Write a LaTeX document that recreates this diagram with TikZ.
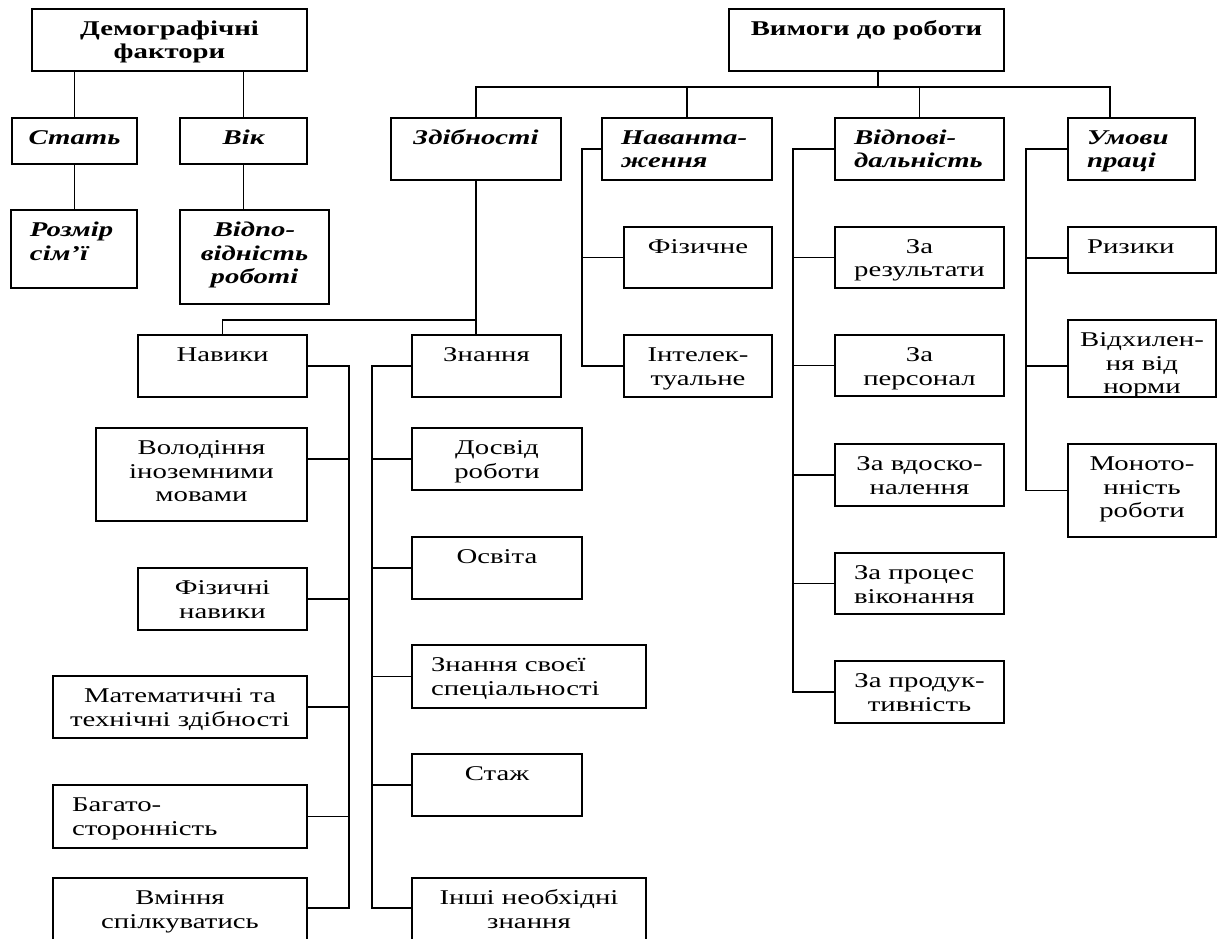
\documentclass[tikz,border=0pt]{standalone}
\usepackage{fontspec}
\setmainfont{Liberation Serif}[FakeStretch=1.37]
\tikzset{
  boxst/.style={draw=black, line width=1.6pt, inner sep=0pt, outer sep=0pt, font=\fontsize{21pt}{23.5pt}\selectfont},
  conn/.style={draw=black, line width=1.6pt},
}
\newcommand{\mybox}[8]{\node[boxst] (#1) at ({(#2+#4)/2},{(#3+#5)/2}) {\parbox[c][\dimexpr#5pt-#3pt\relax][t]{\dimexpr#4pt-#2pt\relax}{#6#7\rule{0pt}{26.5pt}#8}};}
\newcommand{\ctr}{\centering}
\newcommand{\lft}{\raggedright\leftskip=19pt\relax}
\newcommand{\bfs}{\bfseries}
\newcommand{\bis}{\bfseries\itshape}
\newcommand{\rgs}{\mdseries\upshape}
\begin{document}
\begin{tikzpicture}[x=1pt,y=-1pt]
\useasboundingbox (0,0) rectangle (1219,939);
\clip (0,0) rectangle (1219,939);
\fill[white] (0,0) rectangle (1219,939);

% left top group
\mybox{dem}{32}{9}{307}{71}{\bfs}{\ctr}{Демографічні\\фактори}
\mybox{stat}{12}{118}{137}{164}{\bis}{\ctr}{Стать}
\mybox{vik}{180}{118}{307}{164}{\bis}{\ctr}{Вік}
\mybox{rozm}{11}{210}{137}{288}{\bis}{\lft}{Розмір\\сім’ї}
\mybox{vidp}{180}{210}{329}{304}{\bis}{\ctr}{Відпо-\\відність\\роботі}

% right top group
\mybox{vym}{729}{9}{1004}{71}{\bfs}{\ctr}{Вимоги до роботи}
\mybox{zdib}{391}{118}{561}{180}{\bis}{\ctr}{Здібності}
\mybox{navan}{602}{118}{772}{180}{\bis}{\lft}{Наванта-\\ження}
\mybox{vidpov}{835}{118}{1004}{180}{\bis}{\lft}{Відпові-\\дальність}
\mybox{umovy}{1068}{118}{1195}{180}{\bis}{\lft}{Умови\\праці}

% Navantazhennia children
\mybox{fiz}{624}{227}{772}{288}{\rgs}{\ctr}{Фізичне}
\mybox{intel}{624}{335}{772}{397}{\rgs}{\ctr}{Інтелек-\\туальне}

% Vidpovidalnist children
\mybox{zares}{835}{227}{1004}{288}{\rgs}{\ctr}{За\\результати}
\mybox{zapers}{835}{335}{1004}{396}{\rgs}{\ctr}{За\\персонал}
\mybox{zavdos}{835}{444}{1004}{506}{\rgs}{\ctr}{За вдоско-\\налення}
\mybox{zaproc}{835}{553}{1004}{614}{\rgs}{\lft}{За процес\\віконання}
\mybox{zaprod}{835}{661}{1004}{723}{\rgs}{\ctr}{За продук-\\тивність}

% Umovy pratsi children
\mybox{ryz}{1068}{227}{1216}{273}{\rgs}{\lft}{Ризики}
\mybox{vidkh}{1068}{320}{1216}{397}{\rgs}{\ctr}{Відхилен-\\ня від\\норми}
\mybox{monot}{1068}{444}{1216}{537}{\rgs}{\ctr}{Моното-\\нність\\роботи}

% Zdibnosti children
\mybox{navyky}{138}{335}{307}{397}{\rgs}{\ctr}{Навики}
\mybox{znann}{412}{335}{561}{397}{\rgs}{\ctr}{Знання}

% Navyky children
\mybox{volod}{96}{428}{307}{521}{\rgs}{\ctr}{Володіння\\іноземними\\мовами}
\mybox{fizn}{138}{568}{307}{630}{\rgs}{\ctr}{Фізичні\\навики}
\mybox{mat}{53}{676}{307}{738}{\rgs}{\ctr}{Математичні та\\технічні здібності}
\mybox{bahat}{53}{785}{307}{848}{\rgs}{\lft}{Багато-\\сторонність}
\mybox{vmin}{53}{878}{307}{946}{\rgs}{\ctr}{Вміння\\спілкуватись}

% Znannia children
\mybox{dosv}{412}{428}{582}{490}{\rgs}{\ctr}{Досвід\\роботи}
\mybox{osv}{412}{537}{582}{599}{\rgs}{\ctr}{Освіта}
\mybox{znsp}{412}{645}{646}{708}{\rgs}{\lft}{Знання своєї\\спеціальності}
\mybox{stazh}{412}{754}{582}{816}{\rgs}{\ctr}{Стаж}
\mybox{inshi}{412}{878}{646}{946}{\rgs}{\ctr}{Інші необхідні\\знання}

% connectors: demographic
\draw[conn] (stat.north) -- (stat.north |- dem.south);
\draw[conn] (vik.north) -- (vik.north |- dem.south);
\draw[conn] (stat.south) -- (stat.south |- rozm.north);
\draw[conn] (vik.south) -- (vik.south |- vidp.north);

% connectors: requirements
\coordinate (bus1) at (878,87);
\draw[conn] (vym.south -| bus1) -- (bus1);
\draw[conn] (zdib.north) |- (bus1);
\draw[conn] ([xshift=-21.5pt]umovy.north) |- (bus1);
\draw[conn] (navan.north) -- (navan.north |- bus1);
\draw[conn] (vidpov.north) -- (vidpov.north |- bus1);

% Navantazhennia bus
\coordinate (nb) at (582,0);
\draw[conn] (navan.west) -- (navan.west -| nb) |- (intel.west);
\draw[conn] (fiz.west) -- (fiz.west -| nb);

% Vidpovidalnist bus
\coordinate (vb) at (793,0);
\draw[conn] (vidpov.west) -- (vidpov.west -| vb) |- (zaprod.west);
\foreach \n in {zares,zapers,zavdos,zaproc}
  \draw[conn] (\n.west) -- (\n.west -| vb);

% Umovy bus
\coordinate (ub) at (1026,0);
\draw[conn] (umovy.west) -- (umovy.west -| ub) |- (monot.west);
\draw[conn] ([yshift=-8pt]ryz.west) -- ([yshift=-8pt]ryz.west -| ub);
\draw[conn] ([yshift=-7.5pt]vidkh.west) -- ([yshift=-7.5pt]vidkh.west -| ub);

% Zdibnosti split
\coordinate (zj) at (476,320);
\draw[conn] (zdib.south) -- (zdib.south |- znann.north);
\draw[conn] (navyky.north) |- (zj);

% Navyky bus
\coordinate (nvb) at (349,0);
\draw[conn] (navyky.east) -- (navyky.east -| nvb) |- ([yshift=4pt]vmin.east);
\draw[conn] ([yshift=15.5pt]volod.east) -- ([yshift=15.5pt]volod.east -| nvb);
\foreach \n in {fizn,mat,bahat}
  \draw[conn] (\n.east) -- (\n.east -| nvb);

% Znannia bus
\coordinate (kb) at (372,0);
\draw[conn] (znann.west) -- (znann.west -| kb) |- ([yshift=4pt]inshi.west);
\foreach \n in {dosv,osv,znsp,stazh}
  \draw[conn] (\n.west) -- (\n.west -| kb);
\end{tikzpicture}
\end{document}
